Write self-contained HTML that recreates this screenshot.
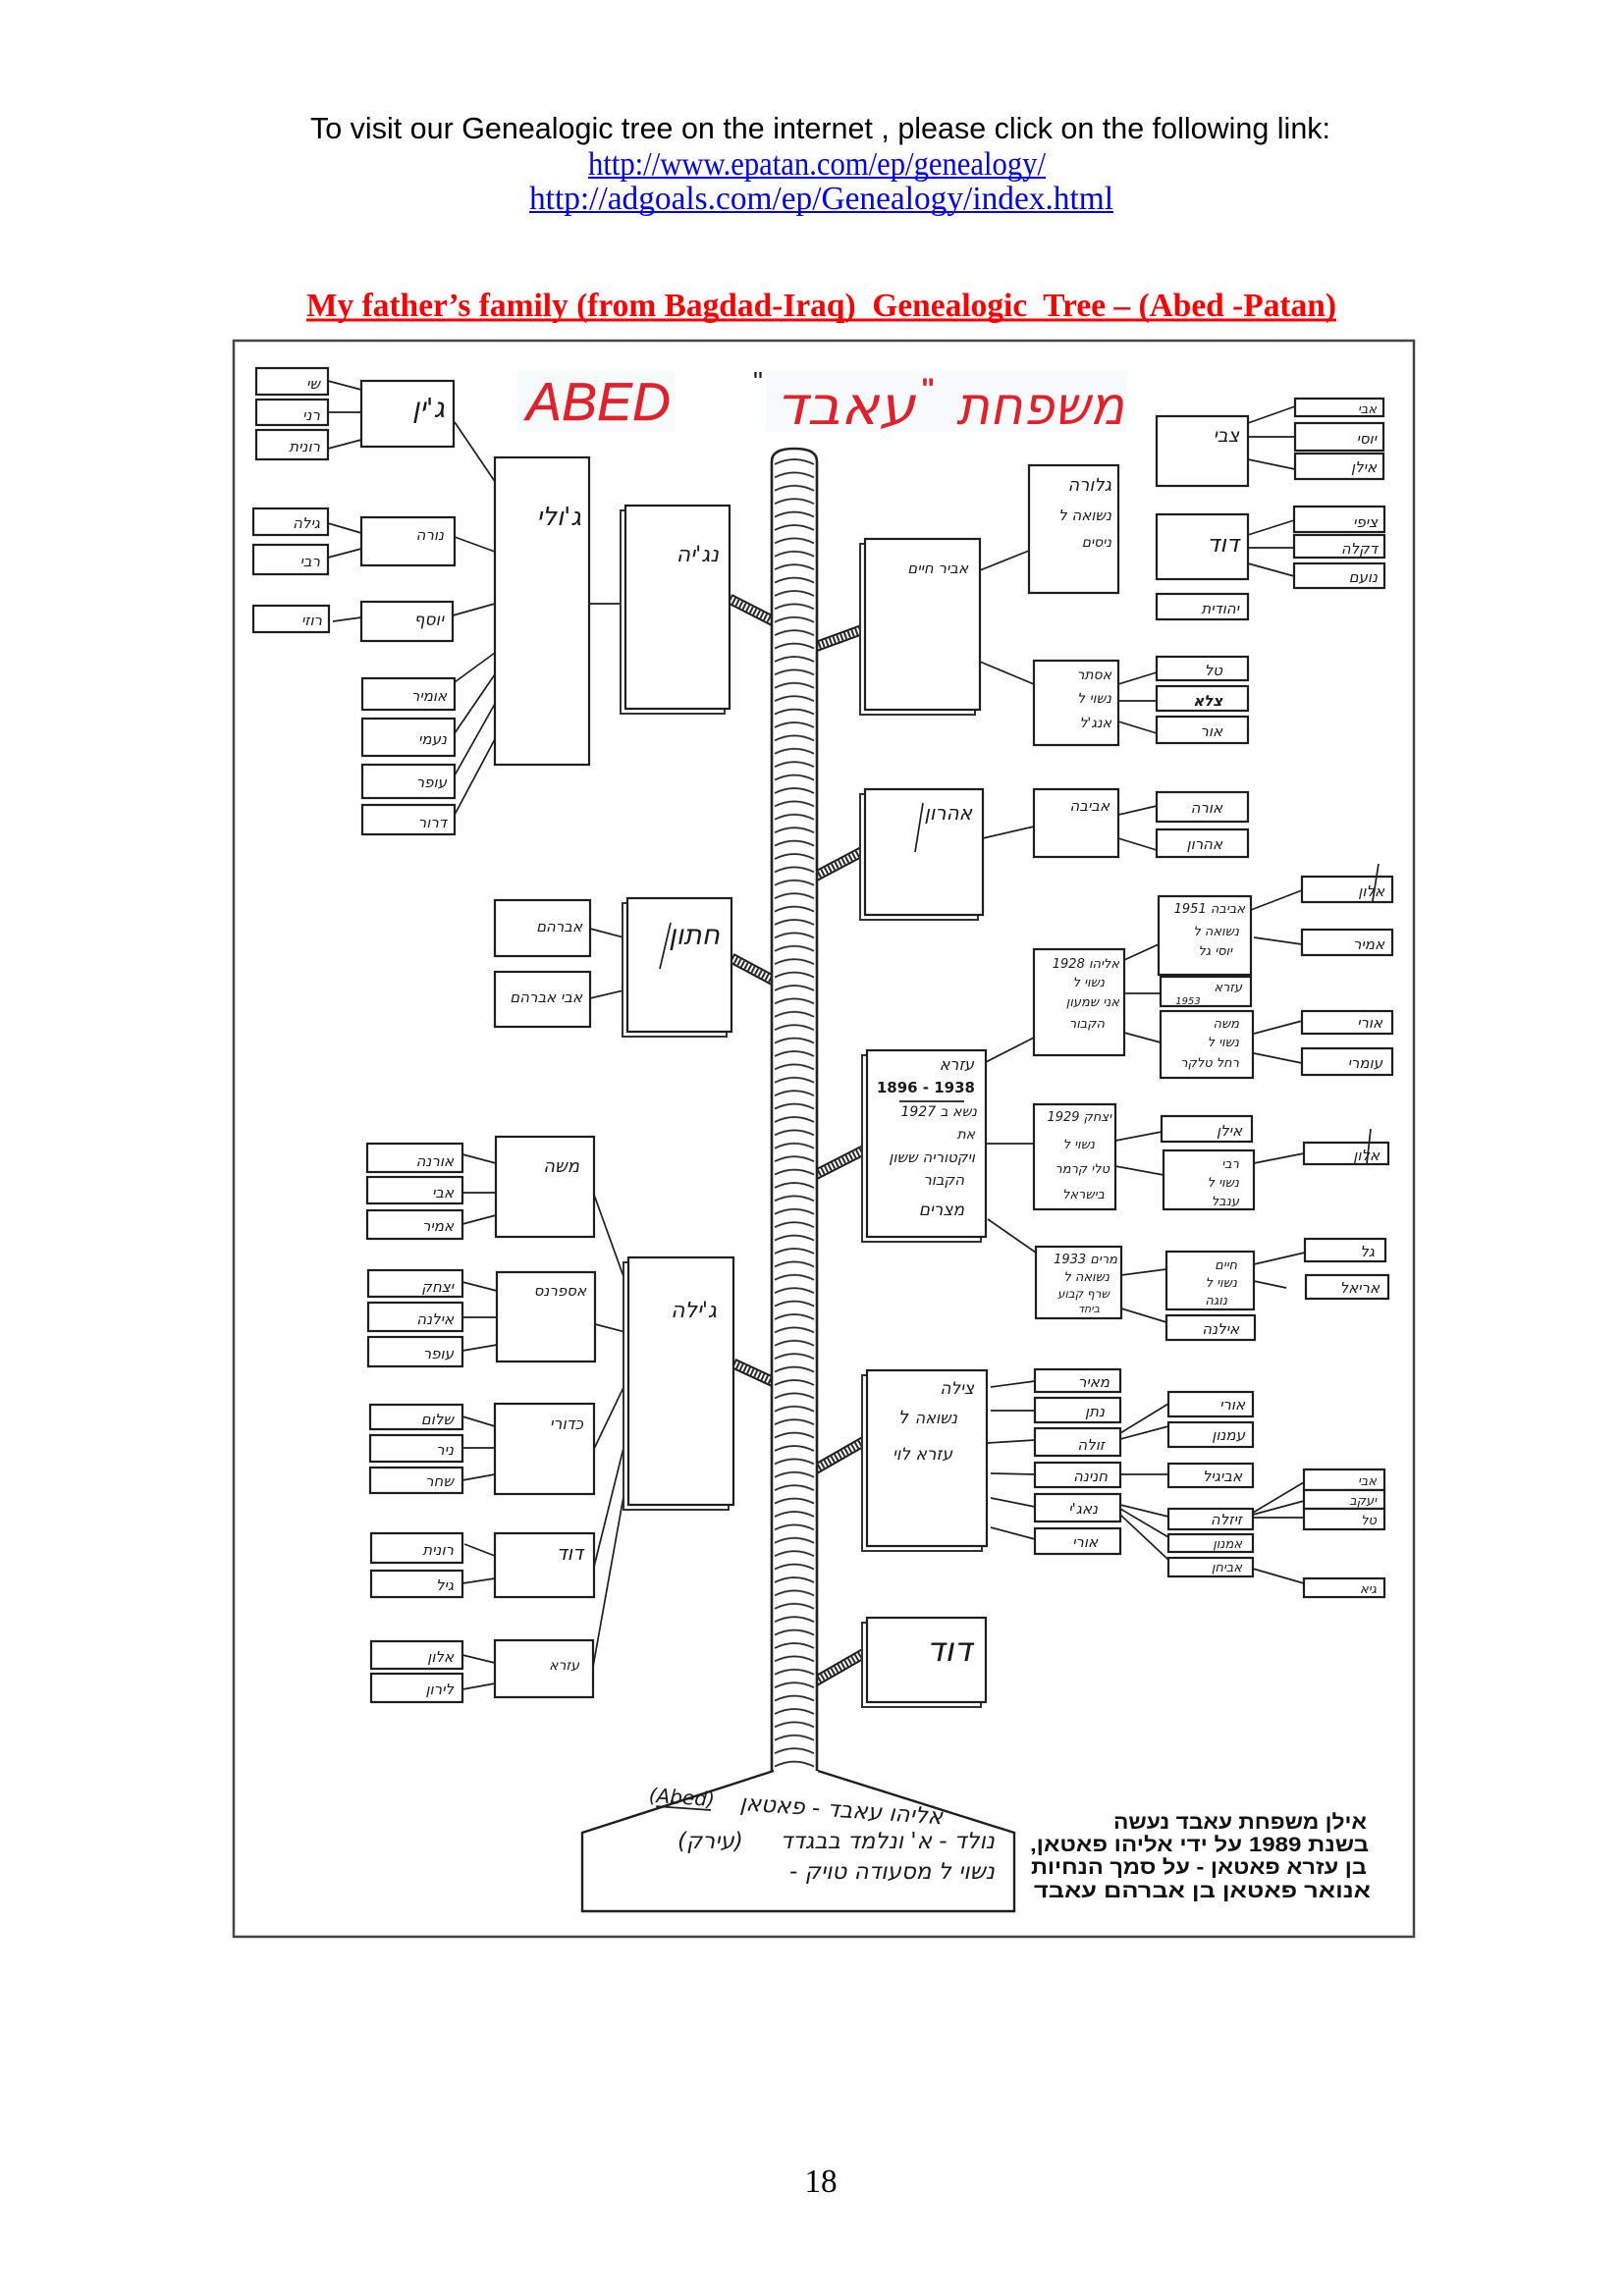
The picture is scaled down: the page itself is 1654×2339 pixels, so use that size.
<!DOCTYPE html>
<html><head><meta charset="utf-8">
<style>
html,body{margin:0;padding:0;background:#fff;}
svg{display:block}
</style></head>
<body>
<svg width="1654" height="2339" viewBox="0 0 1654 2339" xmlns="http://www.w3.org/2000/svg">
<defs>
<pattern id="coil" x="786" y="462" width="46" height="13.4" patternUnits="userSpaceOnUse">
<path d="M3,11 Q23,1 43,11" fill="none" stroke="#2a2a2a" stroke-width="1.8"/>
</pattern>
</defs>
<style>
.b{fill:#fff;stroke:#1e1e1e;stroke-width:2.2}
.s{fill:#fff;stroke:#333;stroke-width:2}
.c{stroke:#1e1e1e;stroke-width:1.7;fill:none}
.h{font-family:"DejaVu Sans","Liberation Sans",sans-serif;font-style:italic;fill:#1a1a1a;text-anchor:end}
.lb{stroke:#1e1e1e;stroke-width:11}
.lw{stroke:#fff;stroke-width:7}
.ld{stroke:#2a2a2a;stroke-width:7;stroke-dasharray:2 2}
.p{font-family:"Liberation Sans","DejaVu Sans",sans-serif;font-weight:bold;fill:#111}
</style>

<!-- Header -->
<text x="316" y="141" font-family="Liberation Sans, Arial, sans-serif" font-size="30.5" fill="#000" textLength="1039" lengthAdjust="spacingAndGlyphs">To visit our Genealogic tree on the internet , please click on the following link:</text>
<text x="599" y="178" font-family="Liberation Serif, serif" font-size="33.3" fill="#0000ff" textLength="466" lengthAdjust="spacingAndGlyphs">http://www.epatan.com/ep/genealogy/</text>
<line x1="599" y1="181" x2="1065" y2="181" stroke="#0000ff" stroke-width="2"/>
<text x="539" y="213" font-family="Liberation Serif, serif" font-size="33.3" fill="#0000ff" textLength="595" lengthAdjust="spacingAndGlyphs">http://adgoals.com/ep/Genealogy/index.html</text>
<line x1="539" y1="216" x2="1134" y2="216" stroke="#0000ff" stroke-width="2"/>
<text x="312" y="322" font-family="Liberation Serif, serif" font-size="33.3" font-weight="bold" fill="#ff0000" textLength="1049" lengthAdjust="spacingAndGlyphs">My father’s family (from Bagdad-Iraq)&#160; Genealogic&#160; Tree – (Abed -Patan)</text>
<line x1="312" y1="326" x2="1361" y2="326" stroke="#ff0000" stroke-width="3"/>

<!-- Frame -->
<rect x="238" y="347" width="1202" height="1626" fill="none" stroke="#444" stroke-width="2.5"/>

<!-- Red title -->
<rect x="527" y="378" width="160" height="62" fill="#f7fbfc"/>
<rect x="780" y="378" width="368" height="62" fill="#f7fbfc"/>
<text x="536" y="428" font-family="Liberation Sans, sans-serif" font-style="italic" font-size="55" fill="#e3202a" stroke="#e3202a" stroke-width="0.4" textLength="147" lengthAdjust="spacingAndGlyphs">ABED</text>
<text x="767" y="398" font-family="Liberation Sans, sans-serif" font-size="28" fill="#222">"</text>
<text x="790" y="432" font-family="DejaVu Sans, sans-serif" font-style="italic" font-size="54" fill="#e3202a" textLength="142" lengthAdjust="spacingAndGlyphs">עאבד</text>
<text x="938" y="406" font-family="Liberation Sans, sans-serif" font-weight="bold" font-size="30" fill="#e3202a">"</text>
<text x="974" y="432" font-family="DejaVu Sans, sans-serif" font-style="italic" font-size="54" fill="#e3202a" textLength="171" lengthAdjust="spacingAndGlyphs">משפחת</text>

<!-- ===== Connectors ===== -->
<g class="c">
<line x1="334" y1="388" x2="368" y2="397"/><line x1="334" y1="420" x2="368" y2="420"/><line x1="334" y1="457" x2="368" y2="448"/>
<line x1="463" y1="430" x2="505" y2="492"/>
<line x1="334" y1="533" x2="368" y2="543"/><line x1="334" y1="568" x2="368" y2="559"/>
<line x1="463" y1="547" x2="504" y2="562"/>
<line x1="339" y1="633" x2="368" y2="629"/>
<line x1="461" y1="627" x2="504" y2="615"/>
<line x1="463" y1="695" x2="504" y2="665"/><line x1="463" y1="747" x2="504" y2="687"/><line x1="463" y1="790" x2="504" y2="717"/><line x1="463" y1="830" x2="504" y2="753"/>
<line x1="600" y1="615" x2="637" y2="615"/>
<line x1="998" y1="581" x2="1048" y2="561"/><line x1="998" y1="674" x2="1053" y2="697"/>
<line x1="1271" y1="431" x2="1319" y2="414"/><line x1="1271" y1="445" x2="1319" y2="445"/><line x1="1271" y1="468" x2="1319" y2="478"/>
<line x1="1271" y1="545" x2="1318" y2="530"/><line x1="1271" y1="558" x2="1318" y2="558"/><line x1="1271" y1="574" x2="1318" y2="587"/>
<line x1="1139" y1="697" x2="1178" y2="685"/><line x1="1139" y1="714" x2="1178" y2="714"/><line x1="1139" y1="735" x2="1178" y2="747"/>
<line x1="1001" y1="854" x2="1053" y2="842"/>
<line x1="1139" y1="830" x2="1178" y2="821"/><line x1="1139" y1="854" x2="1178" y2="866"/>
<line x1="1004" y1="1082" x2="1053" y2="1057"/>
<line x1="1145" y1="978" x2="1180" y2="962"/><line x1="1145" y1="1012" x2="1182" y2="1012"/><line x1="1145" y1="1052" x2="1182" y2="1062"/>
<line x1="1274" y1="927" x2="1326" y2="907"/><line x1="1277" y1="955" x2="1326" y2="962"/><line x1="1277" y1="1053" x2="1326" y2="1040"/><line x1="1277" y1="1073" x2="1326" y2="1083"/>
<line x1="1004" y1="1165" x2="1053" y2="1165"/>
<line x1="1136" y1="1162" x2="1183" y2="1153"/><line x1="1136" y1="1188" x2="1185" y2="1197"/>
<line x1="1277" y1="1185" x2="1328" y2="1175"/>
<line x1="1006" y1="1242" x2="1055" y2="1276"/>
<line x1="1142" y1="1299" x2="1188" y2="1293"/><line x1="1142" y1="1333" x2="1188" y2="1347"/>
<line x1="1277" y1="1288" x2="1329" y2="1276"/><line x1="1277" y1="1305" x2="1310" y2="1312"/>
<line x1="1009" y1="1413" x2="1054" y2="1407"/><line x1="1009" y1="1437" x2="1054" y2="1437"/><line x1="1006" y1="1470" x2="1054" y2="1467"/><line x1="1009" y1="1501" x2="1054" y2="1502"/><line x1="1009" y1="1526" x2="1054" y2="1535"/><line x1="1009" y1="1556" x2="1054" y2="1568"/>
<line x1="1141" y1="1460" x2="1190" y2="1430"/><line x1="1141" y1="1466" x2="1190" y2="1453"/><line x1="1141" y1="1502" x2="1190" y2="1502"/><line x1="1141" y1="1533" x2="1190" y2="1545"/><line x1="1141" y1="1537" x2="1190" y2="1566"/><line x1="1141" y1="1543" x2="1190" y2="1589"/>
<line x1="1276" y1="1541" x2="1328" y2="1510"/><line x1="1276" y1="1543" x2="1328" y2="1529"/><line x1="1276" y1="1546" x2="1328" y2="1546"/><line x1="1276" y1="1598" x2="1328" y2="1613"/>
<line x1="601" y1="946" x2="639" y2="956"/><line x1="601" y1="1017" x2="639" y2="1008"/>
<line x1="471" y1="1176" x2="505" y2="1185"/><line x1="471" y1="1215" x2="505" y2="1215"/><line x1="471" y1="1247" x2="505" y2="1238"/>
<line x1="605" y1="1217" x2="641" y2="1317"/>
<line x1="471" y1="1306" x2="506" y2="1315"/><line x1="471" y1="1342" x2="506" y2="1342"/><line x1="471" y1="1376" x2="506" y2="1370"/>
<line x1="606" y1="1349" x2="641" y2="1358"/>
<line x1="471" y1="1443" x2="504" y2="1453"/><line x1="471" y1="1475" x2="504" y2="1475"/><line x1="471" y1="1508" x2="504" y2="1502"/>
<line x1="605" y1="1476" x2="640" y2="1403"/>
<line x1="473" y1="1573" x2="504" y2="1585"/><line x1="471" y1="1613" x2="504" y2="1608"/>
<line x1="605" y1="1596" x2="640" y2="1455"/>
<line x1="471" y1="1686" x2="504" y2="1694"/><line x1="471" y1="1721" x2="504" y2="1715"/>
<line x1="604" y1="1698" x2="641" y2="1491"/>
</g>

<!-- ===== Ladders ===== -->
<g>
<line class="lb" x1="743" y1="610" x2="788" y2="633"/><line class="lw" x1="743" y1="610" x2="788" y2="633"/><line class="ld" x1="743" y1="610" x2="788" y2="633"/>
<line class="lb" x1="830" y1="659" x2="882" y2="640"/><line class="lw" x1="830" y1="659" x2="882" y2="640"/><line class="ld" x1="830" y1="659" x2="882" y2="640"/>
<line class="lb" x1="830" y1="893" x2="881" y2="866"/><line class="lw" x1="830" y1="893" x2="881" y2="866"/><line class="ld" x1="830" y1="893" x2="881" y2="866"/>
<line class="lb" x1="745" y1="976" x2="788" y2="999"/><line class="lw" x1="745" y1="976" x2="788" y2="999"/><line class="ld" x1="745" y1="976" x2="788" y2="999"/>
<line class="lb" x1="830" y1="1197" x2="883" y2="1170"/><line class="lw" x1="830" y1="1197" x2="883" y2="1170"/><line class="ld" x1="830" y1="1197" x2="883" y2="1170"/>
<line class="lb" x1="747" y1="1389" x2="788" y2="1408"/><line class="lw" x1="747" y1="1389" x2="788" y2="1408"/><line class="ld" x1="747" y1="1389" x2="788" y2="1408"/>
<line class="lb" x1="830" y1="1497" x2="884" y2="1466"/><line class="lw" x1="830" y1="1497" x2="884" y2="1466"/><line class="ld" x1="830" y1="1497" x2="884" y2="1466"/>
<line class="lb" x1="830" y1="1713" x2="884" y2="1682"/><line class="lw" x1="830" y1="1713" x2="884" y2="1682"/><line class="ld" x1="830" y1="1713" x2="884" y2="1682"/>
</g>

<!-- ===== Trunk ===== -->
<rect x="786" y="466" width="46" height="1338" fill="#fff"/>
<rect x="786" y="466" width="46" height="1338" fill="url(#coil)"/>
<path d="M786,1804 L786,470 Q786,457 809,457 Q832,457 832,470 L832,1804" stroke="#222" stroke-width="2.6" fill="none"/>

<!-- Base -->
<polyline points="788,1804 593,1867 593,1947 1033,1947 1033,1867 833,1804" fill="none" stroke="#1e1e1e" stroke-width="2.4"/>

<!-- ===== Boxes ===== -->
<g>
<rect class="b" x="261" y="375" width="73" height="27"/><rect class="b" x="261" y="407" width="73" height="26"/><rect class="b" x="261" y="438" width="73" height="30"/>
<rect class="b" x="368" y="388" width="94" height="67"/>
<rect class="b" x="258" y="518" width="76" height="27"/><rect class="b" x="258" y="555" width="76" height="30"/>
<rect class="b" x="368" y="527" width="95" height="49"/>
<rect class="b" x="258" y="617" width="77" height="27"/>
<rect class="b" x="368" y="613" width="93" height="40"/>
<rect class="b" x="369" y="691" width="94" height="32"/><rect class="b" x="369" y="732" width="94" height="38"/><rect class="b" x="369" y="779" width="94" height="34"/><rect class="b" x="369" y="820" width="94" height="30"/>
<rect class="b" x="504" y="466" width="96" height="313"/>
<rect class="s" x="632" y="520" width="106" height="207"/><rect class="b" x="637" y="515" width="106" height="207"/>
<rect class="s" x="876" y="554" width="117" height="174"/><rect class="b" x="881" y="549" width="117" height="174"/>
<rect class="b" x="1048" y="474" width="91" height="130"/>
<rect class="b" x="1053" y="673" width="86" height="86"/>
<rect class="b" x="1178" y="424" width="93" height="71"/>
<rect class="b" x="1319" y="406" width="90" height="18"/><rect class="b" x="1319" y="431" width="90" height="28"/><rect class="b" x="1319" y="462" width="90" height="26"/>
<rect class="b" x="1178" y="524" width="93" height="66"/>
<rect class="b" x="1318" y="516" width="92" height="26"/><rect class="b" x="1318" y="545" width="92" height="23"/><rect class="b" x="1318" y="574" width="92" height="25"/>
<rect class="b" x="1178" y="605" width="93" height="26"/>
<rect class="b" x="1178" y="669" width="93" height="24"/><rect class="b" x="1178" y="699" width="93" height="25"/><rect class="b" x="1178" y="730" width="93" height="27"/>
<rect class="s" x="876" y="809" width="120" height="128"/><rect class="b" x="881" y="804" width="120" height="128"/>
<rect class="b" x="1053" y="804" width="86" height="69"/>
<rect class="b" x="1178" y="807" width="93" height="30"/><rect class="b" x="1178" y="845" width="93" height="28"/>
<rect class="s" x="878" y="1075" width="121" height="190"/><rect class="b" x="883" y="1070" width="121" height="190"/>
<rect class="b" x="1053" y="967" width="92" height="108"/>
<rect class="b" x="1180" y="913" width="94" height="80"/>
<rect class="b" x="1182" y="995" width="92" height="30"/>
<rect class="b" x="1182" y="1030" width="94" height="68"/>
<rect class="b" x="1326" y="893" width="92" height="26"/><rect class="b" x="1326" y="947" width="92" height="26"/><rect class="b" x="1326" y="1030" width="92" height="23"/><rect class="b" x="1326" y="1068" width="92" height="27"/>
<rect class="b" x="1053" y="1125" width="83" height="107"/>
<rect class="b" x="1183" y="1137" width="92" height="26"/>
<rect class="b" x="1185" y="1172" width="92" height="60"/>
<rect class="b" x="1328" y="1164" width="86" height="22"/>
<rect class="b" x="1055" y="1270" width="87" height="73"/>
<rect class="b" x="1188" y="1275" width="89" height="59"/>
<rect class="b" x="1188" y="1340" width="90" height="25"/>
<rect class="b" x="1329" y="1262" width="82" height="23"/>
<rect class="b" x="1330" y="1299" width="84" height="24"/>
<rect class="s" x="878" y="1401" width="122" height="179"/><rect class="b" x="883" y="1396" width="122" height="179"/>
<rect class="b" x="1054" y="1395" width="87" height="23"/><rect class="b" x="1054" y="1424" width="87" height="25"/><rect class="b" x="1054" y="1455" width="87" height="28"/><rect class="b" x="1054" y="1490" width="87" height="25"/><rect class="b" x="1054" y="1522" width="87" height="28"/><rect class="b" x="1054" y="1557" width="87" height="26"/>
<rect class="b" x="1190" y="1418" width="86" height="25"/><rect class="b" x="1190" y="1449" width="86" height="25"/><rect class="b" x="1190" y="1491" width="86" height="24"/><rect class="b" x="1190" y="1537" width="86" height="21"/><rect class="b" x="1190" y="1563" width="86" height="18"/><rect class="b" x="1190" y="1587" width="86" height="19"/>
<rect class="b" x="1328" y="1497" width="82" height="21"/><rect class="b" x="1328" y="1518" width="82" height="19"/><rect class="b" x="1328" y="1537" width="82" height="21"/><rect class="b" x="1328" y="1608" width="82" height="19"/>
<rect class="s" x="878" y="1653" width="121" height="86"/><rect class="b" x="883" y="1648" width="121" height="86"/>
<rect class="s" x="634" y="920" width="106" height="136"/><rect class="b" x="639" y="915" width="106" height="136"/>
<rect class="b" x="504" y="917" width="97" height="57"/><rect class="b" x="504" y="990" width="97" height="56"/>
<rect class="b" x="505" y="1158" width="100" height="102"/>
<rect class="b" x="374" y="1165" width="97" height="29"/><rect class="b" x="374" y="1199" width="97" height="27"/><rect class="b" x="374" y="1233" width="97" height="29"/>
<rect class="s" x="635" y="1286" width="107" height="252"/><rect class="b" x="640" y="1281" width="107" height="252"/>
<rect class="b" x="506" y="1296" width="100" height="91"/>
<rect class="b" x="375" y="1294" width="96" height="27"/><rect class="b" x="375" y="1327" width="96" height="29"/><rect class="b" x="375" y="1362" width="96" height="30"/>
<rect class="b" x="504" y="1430" width="101" height="92"/>
<rect class="b" x="377" y="1431" width="94" height="25"/><rect class="b" x="377" y="1462" width="94" height="27"/><rect class="b" x="377" y="1495" width="94" height="26"/>
<rect class="b" x="504" y="1562" width="101" height="65"/>
<rect class="b" x="378" y="1562" width="93" height="30"/><rect class="b" x="378" y="1600" width="93" height="27"/>
<rect class="b" x="504" y="1671" width="100" height="58"/>
<rect class="b" x="378" y="1672" width="93" height="28"/><rect class="b" x="378" y="1705" width="93" height="29"/>
</g>

<!-- ===== Labels ===== -->
<g class="h" font-size="15">
<text x="326" y="396">שי</text><text x="326" y="428">רני</text><text x="326" y="460">רונית</text>
<text x="453" y="425" font-size="28">ג'ין</text>
<text x="326" y="538">גילה</text><text x="326" y="577">רבי</text>
<text x="452" y="550">נורה</text>
<text x="328" y="637">רוזי</text>
<text x="452" y="637" font-size="17">יוסף</text>
<text x="455" y="714">אומיר</text><text x="455" y="758">נעמי</text><text x="455" y="802">עופר</text><text x="455" y="843">דרור</text>
<text x="592" y="535" font-size="26">ג'ולי</text>
<text x="732" y="572" font-size="22">נג'יה</text>
<text x="986" y="584">אביר חיים</text>
<text x="1132" y="500" font-size="18">גלורה</text><text x="1132" y="530">נשואה ל</text><text x="1132" y="557" font-size="14">ניסים</text>
<text x="1132" y="692" font-size="14">אסתר</text><text x="1132" y="716" font-size="14">נשוי ל</text><text x="1132" y="741" font-size="14">אנג'ל</text>
<text x="1262" y="450" font-size="19">צבי</text>
<text x="1402" y="421" font-size="13">אבי</text><text x="1402" y="452">יוסי</text><text x="1402" y="481">אילן</text>
<text x="1262" y="562" font-size="24">דוד</text>
<text x="1403" y="537">ציפי</text><text x="1403" y="564">דקלה</text><text x="1403" y="593">נועם</text>
<text x="1262" y="625">יהודית</text>
<text x="1245" y="688">טל</text><text x="1245" y="719" font-weight="bold">צלא</text><text x="1245" y="750">אור</text>
<text x="990" y="835" font-size="20">אהרון</text>
<line x1="940" y1="818" x2="932" y2="868" class="c"/>
<text x="1130" y="826">אביבה</text>
<text x="1245" y="828">אורה</text><text x="1245" y="865">אהרון</text>
<text x="992" y="1090" font-size="16">עזרא</text>
<text x="993" y="1113" text-anchor="end" font-size="15" font-style="normal" font-weight="bold">1896 - 1938</text>
<line x1="916" y1="1122" x2="982" y2="1122" class="c"/>
<text x="995" y="1137" font-size="14">נשא ב 1927</text>
<text x="993" y="1160" font-size="14">את</text>
<text x="993" y="1184" font-size="15">ויקטוריה ששון</text>
<text x="982" y="1207" font-size="15">הקבור</text>
<text x="982" y="1238" font-size="17">מצרים</text>
<text x="1140" y="986" font-size="13">אליהו 1928</text><text x="1125" y="1005" font-size="13">נשוי ל</text><text x="1140" y="1025" font-size="13">אני שמעון</text><text x="1125" y="1047" font-size="13">הקבור</text>
<text x="1268" y="930" font-size="13">אביבה 1951</text><text x="1262" y="953" font-size="13">נשואה ל</text><text x="1255" y="973" font-size="13">יוסי גל</text>
<text x="1265" y="1010" font-size="13">עזרא</text><text x="1210" y="1023" font-size="10" text-anchor="middle">1953</text>
<text x="1262" y="1047" font-size="13">משה</text><text x="1262" y="1066" font-size="13">נשוי ל</text><text x="1262" y="1087" font-size="13">רחל טלקר</text>
<text x="1410" y="913">אלון</text><line x1="1404" y1="880" x2="1398" y2="918" class="c"/>
<text x="1410" y="967">אמיר</text><text x="1408" y="1047">אורי</text><text x="1408" y="1088">עומרי</text>
<text x="1132" y="1142" font-size="13">יצחק 1929</text><text x="1115" y="1170" font-size="13">נשוי ל</text><text x="1130" y="1195" font-size="13">טלי קרמר</text><text x="1125" y="1221" font-size="13">בישראל</text>
<text x="1265" y="1157">אילן</text>
<text x="1262" y="1190" font-size="13">רבי</text><text x="1262" y="1209" font-size="13">נשוי ל</text><text x="1262" y="1228" font-size="13">ענבל</text>
<text x="1405" y="1182">אלון</text><line x1="1396" y1="1150" x2="1392" y2="1186" class="c"/>
<text x="1138" y="1287" font-size="13">מרים 1933</text><text x="1130" y="1305" font-size="13">נשואה ל</text><text x="1130" y="1322" font-size="12">שרף קבוע</text><text x="1120" y="1337" font-size="11">ביחד</text>
<text x="1260" y="1293" font-size="13">חיים</text><text x="1260" y="1311" font-size="13">נשוי ל</text><text x="1250" y="1329" font-size="13">נוגה</text>
<text x="1262" y="1359">אילנה</text>
<text x="1400" y="1280">גל</text><text x="1405" y="1317">אריאל</text>
<text x="992" y="1420" font-size="17">צילה</text>
<text x="975" y="1450" font-size="16">נשואה</text><text x="925" y="1450" font-size="18">ל</text>
<text x="970" y="1487" font-size="17">עזרא לוי</text>
<text x="1130" y="1413">מאיר</text><text x="1125" y="1443">נתן</text><text x="1125" y="1477">זולה</text><text x="1128" y="1509">חנינה</text><text x="1118" y="1542">נאג'י</text><text x="1118" y="1576">אורי</text>
<text x="1268" y="1436">אורי</text><text x="1268" y="1467">עמנון</text><text x="1265" y="1509">אביגיל</text><text x="1265" y="1553">זיזלה</text><text x="1265" y="1577" font-size="13">אמנון</text><text x="1265" y="1601" font-size="13">אביחן</text>
<text x="1402" y="1513" font-size="13">אבי</text><text x="1402" y="1533" font-size="13">יעקב</text><text x="1402" y="1553" font-size="13">טל</text><text x="1402" y="1623" font-size="13">גיא</text>
<text x="990" y="1692" font-size="34">דוד</text>
<text x="733" y="962" font-size="28">חתון</text>
<line x1="683" y1="940" x2="672" y2="987" class="c"/>
<text x="593" y="949">אברהם</text><text x="593" y="1021">אבי אברהם</text>
<text x="590" y="1194" font-size="18">משה</text>
<text x="462" y="1188">אורנה</text><text x="462" y="1220">אבי</text><text x="462" y="1254">אמיר</text>
<text x="730" y="1342" font-size="22">ג'ילה</text>
<text x="597" y="1320">אספרנס</text>
<text x="462" y="1316">יצחק</text><text x="462" y="1349">אילנה</text><text x="462" y="1384">עופר</text>
<text x="594" y="1456" font-size="16">כדורי</text>
<text x="462" y="1451">שלום</text><text x="462" y="1482">ניר</text><text x="462" y="1514">שחר</text>
<text x="594" y="1589" font-size="20">דוד</text>
<text x="462" y="1584">רונית</text><text x="462" y="1620">גיל</text>
<text x="590" y="1701" font-size="14">עזרא</text>
<text x="462" y="1693">אלון</text><text x="462" y="1726">לירון</text>
</g>

<!-- Base handwriting -->
<g class="h" font-size="23">
<g transform="rotate(4 810 1848)">
<text x="660" y="1846" text-anchor="start" font-size="20">(Abed)</text>
<line x1="668" y1="1850" x2="724" y2="1850" class="c"/>
<text x="960" y="1848">אליהו עאבד - פאטאן</text>
</g>
<text x="690" y="1883" text-anchor="start">(עירק)</text>
<text x="1013" y="1883">נולד - א' ונלמד בבגדד</text>
<text x="1013" y="1914">- נשוי ל מסעודה טויק</text>
</g>

<!-- Printed Hebrew note -->
<g class="p" font-size="21">
<text x="1134" y="1863" textLength="258" lengthAdjust="spacingAndGlyphs">אילן משפחת עאבד נעשה</text>
<text x="1049" y="1886" textLength="345" lengthAdjust="spacingAndGlyphs">,בשנת 1989 על ידי אליהו פאטאן</text>
<text x="1050" y="1909" textLength="342" lengthAdjust="spacingAndGlyphs">בן עזרא פאטאן - על סמך הנחיות</text>
<text x="1053" y="1933" textLength="343" lengthAdjust="spacingAndGlyphs">אנואר פאטאן בן אברהם עאבד</text>
</g>

<!-- Page number -->
<text x="836" y="2233" font-family="Liberation Serif, serif" font-size="33.3" fill="#000" text-anchor="middle">18</text>
</svg>
</body></html>
